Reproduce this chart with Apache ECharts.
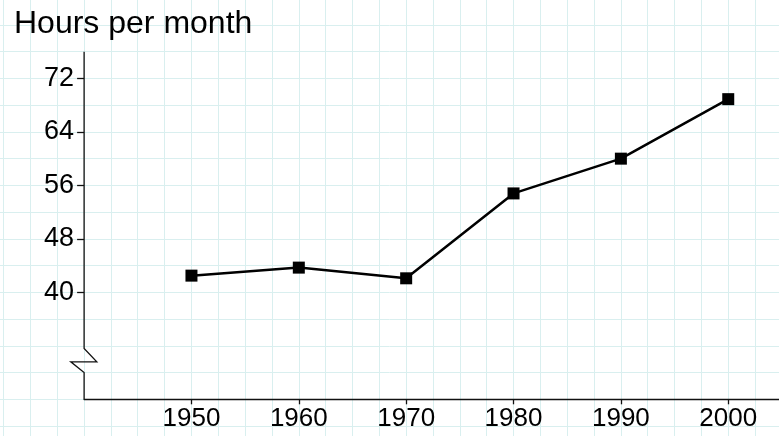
<!DOCTYPE html>
<html>
<head>
<meta charset="utf-8">
<script src="https://cdn.jsdelivr.net/npm/echarts@6/dist/echarts.min.js"></script>
<style>
  html, body { margin: 0; padding: 0; background: #fff; }
  #chart { width: 779px; height: 436px; }
</style>
</head>
<body>
<div id="chart"></div>
<script>
var years = [1950, 1960, 1970, 1980, 1990, 2000];
var hours = [42.5, 43.7, 42.1, 54.8, 60.0, 68.9];
var yTicks = [40, 48, 56, 64, 72];
var xTicks = [1950, 1960, 1970, 1980, 1990, 2000];

var FONT = "Liberation Sans, Arial, Helvetica, sans-serif";
var GRID_COLOR = "#d9efef";
var INK = "#111";

var chart = echarts.init(document.getElementById("chart"));

var seriesData = years.map(function (y, i) { return [y, hours[i]]; });

var option = {
  animation: false,
  backgroundColor: "#fff",
  title: {
    text: "Hours per month",
    left: 9,
    top: 3,
    textStyle: { fontFamily: FONT, fontSize: 32, fontWeight: "normal", color: "#000" }
  },
  grid: [
    // background graph paper, wider than the canvas
    { left: -23.3, top: -1.77, width: 858.9, height: 454.6, outerBoundsMode: "none", containLabel: false },
    // the plot itself
    { left: 84.1, top: 51.7, width: 751.5, height: 347.6, outerBoundsMode: "none", containLabel: false }
  ],
  xAxis: [
    {
      gridIndex: 0, type: "value", min: 1930, max: 2010, interval: 2.5,
      axisLine: { show: false }, axisTick: { show: false }, axisLabel: { show: false },
      splitLine: { show: true, lineStyle: { color: GRID_COLOR, width: 1 } }
    },
    {
      gridIndex: 1, type: "value", min: 1940, max: 2010, interval: 10,
      axisLine: { show: true, onZero: false, lineStyle: { color: INK, width: 1.3 } },
      axisTick: { show: true, length: 5, customValues: xTicks, lineStyle: { color: INK, width: 1.3 } },
      axisLabel: {
        customValues: xTicks, margin: 7,
        formatter: function (v) { return String(v); },
        fontFamily: FONT, fontSize: 26, color: "#000"
      },
      splitLine: { show: false }
    }
  ],
  yAxis: [
    {
      gridIndex: 0, type: "value", min: 16, max: 84, interval: 4,
      axisLine: { show: false }, axisTick: { show: false }, axisLabel: { show: false },
      splitLine: { show: true, lineStyle: { color: GRID_COLOR, width: 1 } }
    },
    {
      gridIndex: 1, type: "value", min: 24, max: 76, interval: 4,
      axisLine: { show: false },
      axisTick: { show: true, length: 7, customValues: yTicks, lineStyle: { color: INK, width: 1.3 } },
      axisLabel: {
        customValues: yTicks, margin: 10,
        fontFamily: FONT, fontSize: 27, color: "#000"
      },
      splitLine: { show: false }
    }
  ],
  series: [
    {
      type: "line",
      xAxisIndex: 1,
      yAxisIndex: 1,
      data: seriesData,
      symbol: "rect",
      symbolSize: 12,
      lineStyle: { color: "#000", width: 2.5 },
      itemStyle: { color: "#000" },
      z: 5
    }
  ]
};

chart.setOption(option);

// y axis line with the break mark near the bottom
var finder = { xAxisIndex: 1, yAxisIndex: 1 };
var pTop = chart.convertToPixel(finder, [1940, 76]);
var b1 = chart.convertToPixel(finder, [1940, 31.6]);
var b2 = chart.convertToPixel(finder, [1940, 29.6]);
var b3 = chart.convertToPixel(finder, [1940, 28.0]);
var pBot = chart.convertToPixel(finder, [1940, 24]);
chart.setOption({
  graphic: [{
    type: "polyline",
    z: 10,
    shape: {
      points: [
        [pTop[0], pTop[1]],
        [b1[0], b1[1]],
        [b1[0] + 12.7, b2[1]],
        [b1[0] - 13.3, b2[1]],
        [b3[0], b3[1]],
        [pBot[0], pBot[1]]
      ]
    },
    style: { stroke: INK, lineWidth: 1.3, fill: null }
  }]
});
</script>
</body>
</html>
